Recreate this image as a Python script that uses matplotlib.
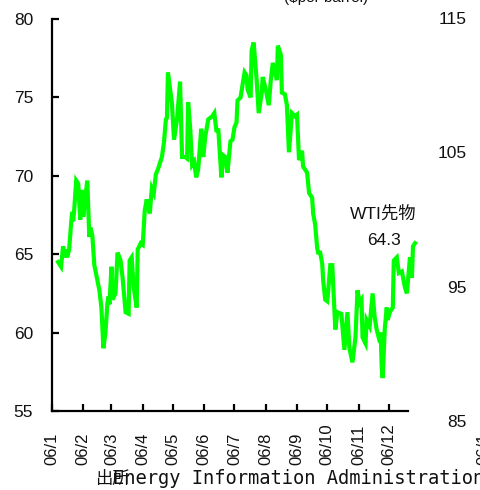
import matplotlib
matplotlib.use("Agg")
import matplotlib.pyplot as plt
import matplotlib.dates as mdates
import matplotlib.transforms as mtransforms
import pandas as pd

# WTI futures 2006 (day offset from 2006-01-01, $/barrel)
days = [6, 9, 11, 13, 14, 15, 17, 19, 20, 21,
        22, 24, 26, 28, 30, 31, 35, 37, 38, 40,
        42, 47, 49, 51, 53, 55, 56, 57, 59, 60,
        63, 65, 68, 70, 73, 76, 77, 79, 81, 84,
        85, 88, 90, 92, 94, 95, 97, 99, 101, 103,
        105, 109, 111, 113, 114, 115, 119, 121, 124, 127,
        129, 132, 134, 135, 137, 139, 141, 143, 145, 148,
        150, 152, 155, 159, 161, 163, 165, 168, 170, 172,
        174, 177, 179, 181, 183, 184, 187, 191, 193, 194,
        197, 198, 200, 203, 205, 208, 209, 212, 215, 217,
        219, 223, 224, 227, 228, 231, 233, 235, 238, 241,
        243, 245, 248, 249, 253, 255, 258, 259, 261, 263,
        264, 266, 268, 269, 271, 273, 274, 276, 278, 281,
        283, 287, 290, 293, 295, 298, 301, 303, 305, 307,
        308, 311, 312, 315, 318, 320, 322, 324, 326, 327,
        328, 330, 332, 333, 335, 338, 339, 342, 344, 347,
        350, 352, 355, 357, 358, 360]
prices = [64.5, 64.2, 65.5, 64.8, 65.3, 64.8, 65.3, 67.0, 67.7, 67.1,
          67.8, 69.7, 69.5, 67.2, 69.1, 67.4, 69.7, 66.1, 66.7, 66.2,
          64.3, 62.7, 61.6, 59.0, 60.0, 61.9, 62.3, 61.8, 64.2, 62.1,
          62.5, 65.1, 64.6, 63.5, 61.3, 61.2, 64.6, 64.8, 62.9, 61.6,
          65.3, 65.7, 65.6, 67.8, 68.5, 68.0, 67.6, 69.2, 68.9, 70.1,
          70.4, 71.2, 72.1, 73.6, 73.7, 76.6, 74.6, 72.3, 73.6, 76.0,
          71.2, 71.2, 71.1, 74.7, 73.1, 70.7, 70.9, 69.9, 70.4, 73.0,
          71.2, 72.5, 73.6, 73.8, 74.0, 72.9, 72.9, 69.9, 71.3, 71.2,
          70.2, 72.2, 72.3, 73.1, 73.4, 74.8, 75.0, 76.6, 76.4, 75.5,
          75.0, 78.0, 78.5, 76.1, 74.0, 75.3, 76.3, 75.5, 74.5, 76.1,
          77.2, 76.1, 78.3, 77.7, 75.3, 75.2, 74.5, 71.5, 74.0, 73.8,
          73.9, 71.0, 71.6, 70.6, 70.2, 68.9, 68.6, 67.6, 66.9, 65.4,
          65.1, 65.1, 64.4, 63.3, 62.1, 62.0, 62.7, 64.3, 64.3, 60.2,
          61.3, 61.2, 58.9, 61.3, 59.0, 58.1, 59.7, 62.7, 61.9, 62.1,
          59.7, 59.3, 60.8, 60.4, 62.5, 61.0, 60.2, 59.7, 60.0, 57.8,
          57.1, 60.2, 61.6, 60.8, 61.3, 61.6, 64.6, 64.8, 63.8, 63.9,
          62.9, 62.5, 64.8, 63.5, 65.5, 65.7]

month_labels = ["06/1", "06/2", "06/3", "06/4", "06/5", "06/6",
                "06/7", "06/8", "06/9", "06/10", "06/11", "06/12"]
left_ticks = [55, 60, 65, 70, 75, 80]
right_ticks = [85, 95, 105, 115]
last_label = "64.3"

plt.rcParams['font.family'] = ['Liberation Sans', 'Noto Sans CJK JP']

start = pd.Timestamp("2006-01-01")
dates = start + pd.to_timedelta(days, unit="D")
months = pd.date_range(start, periods=12, freq="MS")

fig = plt.figure(figsize=(4.81, 4.90), dpi=100)
ax = fig.add_axes([52 / 481, 79 / 490, 367 / 481, 392 / 490])

ax.plot(dates, prices, color="#00ff00", lw=3.0, solid_joinstyle="miter")

ax.set_xlim(start, pd.Timestamp("2006-12-31"))
ax.set_ylim(55, 80)
ax.set_yticks(left_ticks)
ax.set_xticks(months)
ax.set_xticklabels([])

for s in ["top", "right"]:
    ax.spines[s].set_visible(False)
for s in ["left", "bottom"]:
    ax.spines[s].set_linewidth(1.6)
ax.spines["bottom"].set_bounds(mdates.date2num(start),
                               mdates.date2num(pd.Timestamp("2006-12-20")))

ax.tick_params(axis="both", direction="in", length=5, width=1.6, color="black")
ax.tick_params(axis="y", labelsize=12.5, pad=13.5, labelcolor="#111111")

# rotated month labels, bottom-aligned like the original
trans = mtransforms.blended_transform_factory(ax.transData, ax.transAxes)
for m, lab in zip(months, month_labels):
    ax.text(m, -0.138, lab, transform=trans, rotation=90, rotation_mode="anchor",
            ha="left", va="center", fontsize=12, color="#111111")
# clipped label of the next panel at the right edge
fig.text(484 / 481, 25 / 490, "06/1", rotation=90, rotation_mode="anchor",
         ha="left", va="center", fontsize=12, color="#111111")

# right-hand scale (labels only)
ax2 = fig.add_axes([300 / 481, 69 / 490, 167 / 481, 403 / 490])
ax2.set_ylim(85, 115)
ax2.set_yticks(right_ticks)
ax2.yaxis.tick_right()
ax2.tick_params(axis="y", length=0, pad=0, labelsize=12.5, labelcolor="#111111")
for lbl in ax2.get_yticklabels():
    lbl.set_ha("right")
ax2.set_xticks([])
ax2.patch.set_visible(False)
for s in ax2.spines.values():
    s.set_visible(False)

# annotation of the last value
ax.text(pd.Timestamp("2006-11-26"), 67.6, "WTI先物", ha="center", va="center",
        fontsize=12.5, color="#111111")
ax.text(pd.Timestamp("2006-11-26"), 65.9, last_label, ha="center", va="center",
        fontsize=12.5, color="#111111")

# unit, cut off at the top edge
fig.text(326 / 481, 1 - 2 / 490, "($per barrel)", ha="center", va="baseline",
         fontsize=11, color="#111111")

# source line
fig.text(95 / 481, 6 / 490, "出所", ha="left", va="baseline", fontsize=12.5,
         family="Noto Sans CJK JP", color="#111111")
fig.text(113 / 481, 6 / 490, "Energy Information Administration", ha="left",
         va="baseline", fontsize=13.5, family="DejaVu Sans Mono", color="#111111")

fig.savefig("out.png", dpi=100)
